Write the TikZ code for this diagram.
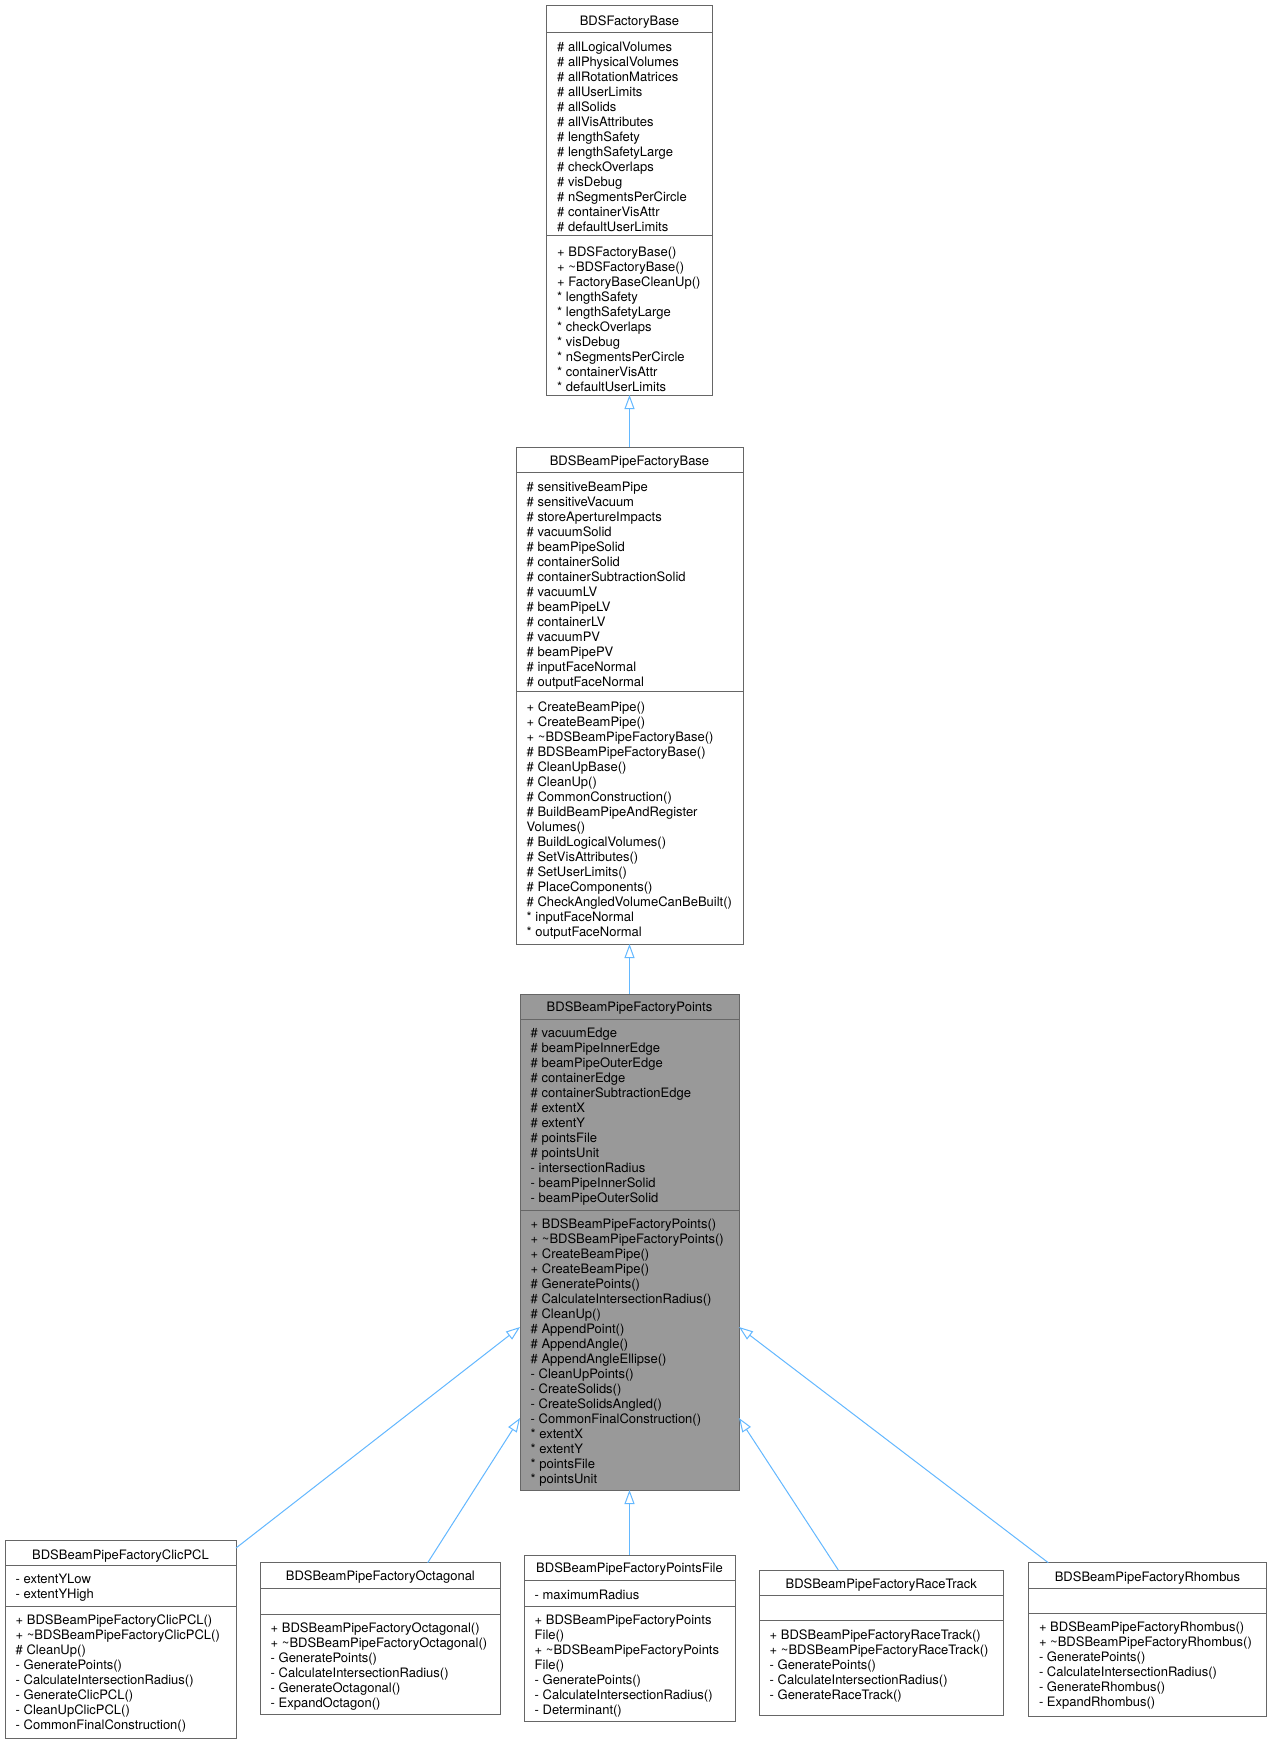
\documentclass[tikz,border=0pt]{standalone}
\usepackage{fontspec}
\setmainfont{TeX Gyre Heros}
\usetikzlibrary{arrows.meta}
\definecolor{boxborder}{HTML}{666666}
\definecolor{hlfill}{HTML}{999999}
\definecolor{edgeblue}{HTML}{63B8FF}
\tikzset{
  classbox/.style={draw=boxborder, line width=1pt, anchor=north west, inner sep=0pt, outer sep=0pt},
  sepline/.style={draw=boxborder, line width=1pt},
  txt/.style={anchor=base west, inner sep=0pt, font=\fontsize{13}{15}\selectfont},
  ttl/.style={anchor=base, inner sep=0pt, font=\fontsize{13}{15}\selectfont},
  inherit/.style={draw=edgeblue, line width=1pt, -{Triangle[open, length=14pt, width=10pt]}},
}
\newcommand\members[4]{\foreach \mtext [count=\idx from 0] in {#4} {\node[txt] (#1-\idx) at (#2,{#3+15*\idx}) {\mtext};}}
\begin{document}
\begin{tikzpicture}[x=1pt,y=-1pt]
\fill[white] (0,0) rectangle (1271,1743);
\useasboundingbox (0,0) rectangle (1271,1743);

% ---------- BDSFactoryBase
\node[classbox, minimum width=166pt, minimum height=390pt] (factory) at (546.5,5) {};
\draw[sepline] (factory.west |- 0,32) -- (factory.east |- 0,32);
\draw[sepline] (factory.west |- 0,235) -- (factory.east |- 0,235);
\node[ttl] (factory-title) at (629.5,25.2) {BDSFactoryBase};
\members{factory-a}{557}{51.2}{\# allLogicalVolumes,\# allPhysicalVolumes,\# allRotationMatrices,\# allUserLimits,\# allSolids,\# allVisAttributes,\# lengthSafety,\# lengthSafetyLarge,\# checkOverlaps,\# visDebug,\# nSegmentsPerCircle,\# containerVisAttr,\# defaultUserLimits}
\members{factory-m}{557}{256.2}{+ BDSFactoryBase(),+ \textasciitilde BDSFactoryBase(),+ FactoryBaseCleanUp(),* lengthSafety,* lengthSafetyLarge,* checkOverlaps,* visDebug,* nSegmentsPerCircle,* containerVisAttr,* defaultUserLimits}

% ---------- BDSBeamPipeFactoryBase
\node[classbox, minimum width=227pt, minimum height=497pt] (base) at (516,447) {};
\draw[sepline] (base.west |- 0,472.7) -- (base.east |- 0,472.7);
\draw[sepline] (base.west |- 0,691) -- (base.east |- 0,691);
\node[ttl] (base-title) at (629.5,465.2) {BDSBeamPipeFactoryBase};
\members{base-a}{526.5}{491.2}{\# sensitiveBeamPipe,\# sensitiveVacuum,\# storeApertureImpacts,\# vacuumSolid,\# beamPipeSolid,\# containerSolid,\# containerSubtractionSolid,\# vacuumLV,\# beamPipeLV,\# containerLV,\# vacuumPV,\# beamPipePV,\# inputFaceNormal,\# outputFaceNormal}
\members{base-m}{526.5}{711.8}{+ CreateBeamPipe(),+ CreateBeamPipe(),+ \textasciitilde BDSBeamPipeFactoryBase(),\# BDSBeamPipeFactoryBase(),\# CleanUpBase(),\# CleanUp(),\# CommonConstruction(),\# BuildBeamPipeAndRegister,Volumes(),\# BuildLogicalVolumes(),\# SetVisAttributes(),\# SetUserLimits(),\# PlaceComponents(),\# CheckAngledVolumeCanBeBuilt(),* inputFaceNormal,* outputFaceNormal}

% ---------- BDSBeamPipeFactoryPoints (highlighted)
\node[classbox, fill=hlfill, minimum width=219pt, minimum height=496pt] (points) at (520,994) {};
\draw[sepline] (points.west |- 0,1019.3) -- (points.east |- 0,1019.3);
\draw[sepline] (points.west |- 0,1210) -- (points.east |- 0,1210);
\node[ttl] (points-title) at (629.5,1011.8) {BDSBeamPipeFactoryPoints};
\members{points-a}{530.5}{1037.2}{\# vacuumEdge,\# beamPipeInnerEdge,\# beamPipeOuterEdge,\# containerEdge,\# containerSubtractionEdge,\# extentX,\# extentY,\# pointsFile,\# pointsUnit,- intersectionRadius,- beamPipeInnerSolid,- beamPipeOuterSolid}
\members{points-m}{530.5}{1228.5}{+ BDSBeamPipeFactoryPoints(),+ \textasciitilde BDSBeamPipeFactoryPoints(),+ CreateBeamPipe(),+ CreateBeamPipe(),\# GeneratePoints(),\# CalculateIntersectionRadius(),\# CleanUp(),\# AppendPoint(),\# AppendAngle(),\# AppendAngleEllipse(),- CleanUpPoints(),- CreateSolids(),- CreateSolidsAngled(),- CommonFinalConstruction(),* extentX,* extentY,* pointsFile,* pointsUnit}

% ---------- BDSBeamPipeFactoryClicPCL
\node[classbox, minimum width=231pt, minimum height=198pt] (clic) at (5,1540) {};
\draw[sepline] (clic.west |- 0,1565) -- (clic.east |- 0,1565);
\draw[sepline] (clic.west |- 0,1606) -- (clic.east |- 0,1606);
\node[ttl] (clic-title) at (120.5,1559.5) {BDSBeamPipeFactoryClicPCL};
\members{clic-a}{15.5}{1583.8}{- extentYLow,- extentYHigh}
\members{clic-m}{15.5}{1624.5}{+ BDSBeamPipeFactoryClicPCL(),+ \textasciitilde BDSBeamPipeFactoryClicPCL(),\# CleanUp(),- GeneratePoints(),- CalculateIntersectionRadius(),- GenerateClicPCL(),- CleanUpClicPCL(),- CommonFinalConstruction()}

% ---------- BDSBeamPipeFactoryOctagonal
\node[classbox, minimum width=240.7pt, minimum height=151.3pt] (octa) at (260,1562.7) {};
\draw[sepline] (octa.west |- 0,1588.3) -- (octa.east |- 0,1588.3);
\draw[sepline] (octa.west |- 0,1614) -- (octa.east |- 0,1614);
\node[ttl] (octa-title) at (380.35,1580.5) {BDSBeamPipeFactoryOctagonal};
\members{octa-m}{270.5}{1632.8}{+ BDSBeamPipeFactoryOctagonal(),+ \textasciitilde BDSBeamPipeFactoryOctagonal(),- GeneratePoints(),- CalculateIntersectionRadius(),- GenerateOctagonal(),- ExpandOctagon()}

% ---------- BDSBeamPipeFactoryPointsFile
\node[classbox, minimum width=211pt, minimum height=166.7pt] (pfile) at (524,1555) {};
\draw[sepline] (pfile.west |- 0,1580.7) -- (pfile.east |- 0,1580.7);
\draw[sepline] (pfile.west |- 0,1606) -- (pfile.east |- 0,1606);
\node[ttl] (pfile-title) at (629.5,1572.8) {BDSBeamPipeFactoryPointsFile};
\members{pfile-a}{534.5}{1599.5}{- maximumRadius}
\members{pfile-m}{534.5}{1624.5}{+ BDSBeamPipeFactoryPoints,File(),+ \textasciitilde BDSBeamPipeFactoryPoints,File(),- GeneratePoints(),- CalculateIntersectionRadius(),- Determinant()}

% ---------- BDSBeamPipeFactoryRaceTrack
\node[classbox, minimum width=244.3pt, minimum height=145.7pt] (race) at (759,1570) {};
\draw[sepline] (race.west |- 0,1595) -- (race.east |- 0,1595);
\draw[sepline] (race.west |- 0,1620.7) -- (race.east |- 0,1620.7);
\node[ttl] (race-title) at (881.2,1588.5) {BDSBeamPipeFactoryRaceTrack};
\members{race-m}{769.5}{1639.5}{+ BDSBeamPipeFactoryRaceTrack(),+ \textasciitilde BDSBeamPipeFactoryRaceTrack(),- GeneratePoints(),- CalculateIntersectionRadius(),- GenerateRaceTrack()}

% ---------- BDSBeamPipeFactoryRhombus
\node[classbox, minimum width=238.4pt, minimum height=154pt] (rhomb) at (1028.3,1562.7) {};
\draw[sepline] (rhomb.west |- 0,1588.3) -- (rhomb.east |- 0,1588.3);
\draw[sepline] (rhomb.west |- 0,1613.3) -- (rhomb.east |- 0,1613.3);
\node[ttl] (rhomb-title) at (1147.5,1581.2) {BDSBeamPipeFactoryRhombus};
\members{rhomb-m}{1038.8}{1631.8}{+ BDSBeamPipeFactoryRhombus(),+ \textasciitilde BDSBeamPipeFactoryRhombus(),- GeneratePoints(),- CalculateIntersectionRadius(),- GenerateRhombus(),- ExpandRhombus()}

% ---------- inheritance connectors
\draw[inherit] (base.north) -- (factory.south);
\draw[inherit] (points.north) -- (base.south);
\draw[inherit] (pfile.north) -- (points.south);
\draw[inherit] ([yshift=-8pt]clic.north east) -- ([yshift=-333pt]points.north west);
\draw[inherit] ([xshift=167.7pt]octa.north west) -- ([yshift=-424pt]points.north west);
\draw[inherit] ([xshift=79.3pt]race.north west) -- ([yshift=-424pt]points.north east);
\draw[inherit] ([xshift=20pt]rhomb.north west) -- ([yshift=-333pt]points.north east);
\end{tikzpicture}
\end{document}
